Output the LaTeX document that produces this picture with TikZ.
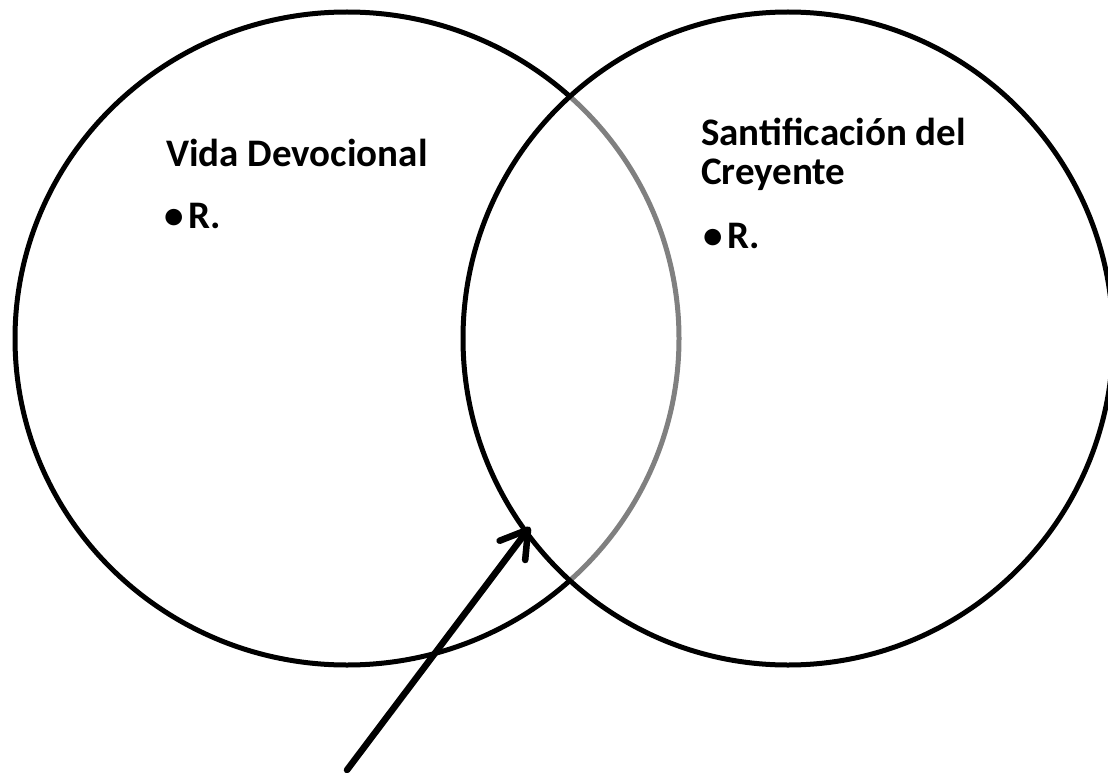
\documentclass[tikz,border=0pt]{standalone}
\usepackage{fontspec}
\setmainfont{Carlito}
\usetikzlibrary{arrows.meta}
\begin{document}
\begin{tikzpicture}[x=1pt,y=-1pt,
  circ/.style={line width=5pt},
  lbl/.style={inner sep=0pt, anchor=base west, align=left, font=\fontsize{39}{37}\selectfont\bfseries},
  pointer/.style={line width=6.5pt, line cap=round, -{Straight Barb[length=26pt,width=32pt,line cap=round,line join=round]}}]
\useasboundingbox (0,0) rectangle (1108,773);
\begin{scope}
  \clip (0,0) rectangle (1108,773);
  \draw[circ] (347,338.5) ellipse [x radius=332, y radius=326.5];
  \draw[circ, fill=white, fill opacity=0.5] (788,338.5) ellipse [x radius=325, y radius=326.5];
\end{scope}
% labels
\node[lbl] (v1) at (166,167) {Vida Devocional};
\node[lbl] (vb) at (164,228) {•};
\node[lbl] (vr) at (188,228) {R.};
\node[lbl] (s1) at (701,146) {Santificación del};
\node[lbl] (s2) at (701,184) {Creyente};
\node[lbl] (sb) at (703,248) {•};
\node[lbl] (sr) at (727,248) {R.};
% arrow
\coordinate (tail) at (347,770);
\coordinate (tip) at (530,527);
\begin{scope}[shift={(3pt,-3pt)}]
  \draw[pointer, draw=black, opacity=0.15] (tail) -- (tip);
\end{scope}
\draw[pointer] (tail) -- (tip);
\end{tikzpicture}
\end{document}
